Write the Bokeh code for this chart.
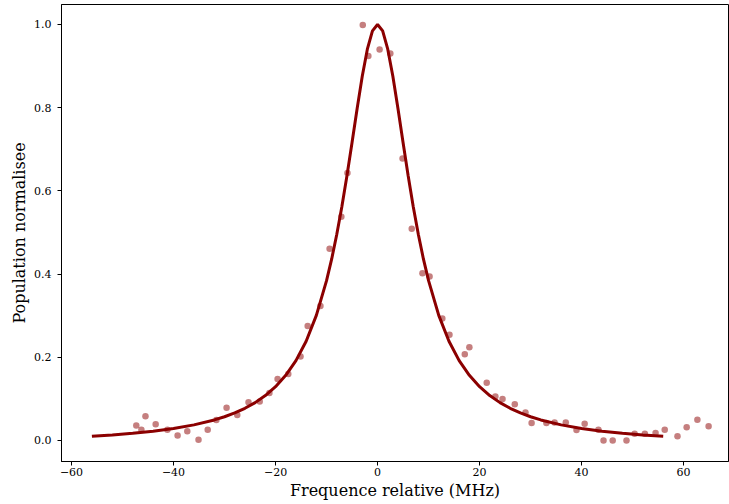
from bokeh.plotting import figure
from bokeh.models import FixedTicker, CustomJSTickFormatter
from bokeh.embed import file_html
from bokeh.resources import INLINE

# Measured points (relative frequency in MHz, normalised population)
freq = [-47.3, -46.3, -45.5, -43.5, -41.2, -39.2, -37.3, -35.1, -33.3, -31.6,
        -29.6, -27.5, -25.3, -23.1, -21.2, -19.6, -17.5, -15.1, -13.7, -11.2,
        -9.4, -7.1, -5.9, -2.9, -1.8, 0.4, 2.5, 4.9, 6.7, 8.8,
        10.2, 12.7, 14.1, 17.1, 18.0, 21.4, 23.1, 24.5, 26.9, 29.0,
        30.2, 33.1, 34.7, 36.9, 39.0, 40.6, 43.3, 44.3, 46.1, 48.8,
        50.4, 52.4, 54.5, 56.3, 58.8, 60.6, 62.7, 64.9]
pop = [0.036, 0.026, 0.058, 0.039, 0.026, 0.012, 0.022, 0.002, 0.026, 0.049,
       0.079, 0.061, 0.092, 0.094, 0.114, 0.148, 0.160, 0.202, 0.275, 0.323,
       0.461, 0.538, 0.643, 0.999, 0.924, 0.940, 0.930, 0.678, 0.509, 0.402,
       0.394, 0.293, 0.254, 0.207, 0.224, 0.139, 0.106, 0.100, 0.087, 0.067,
       0.042, 0.042, 0.043, 0.043, 0.025, 0.040, 0.026, 0.000, 0.000, 0.000,
       0.016, 0.016, 0.018, 0.026, 0.010, 0.032, 0.050, 0.034]

# Fitted curve
fit_freq = [-56, -52, -48, -44, -40, -36, -32, -30, -28, -26, -24, -22, -20, -18,
            -16, -14, -12, -10, -9, -8, -7, -6, -5, -4, -3, -2, -1, 0,
            1, 2, 3, 4, 5, 6, 7, 8, 9, 10, 12, 14, 16, 18, 20, 22, 24, 26,
            28, 30, 32, 36, 40, 44, 48, 52, 56]
fit_pop = [0.0102, 0.0134, 0.0173, 0.0223, 0.0288, 0.0375, 0.0494, 0.0571, 0.0662,
           0.0774, 0.0910, 0.1080, 0.1293, 0.1566, 0.1920, 0.2386, 0.3008, 0.3841,
           0.4358, 0.4950, 0.5620, 0.6364, 0.7163, 0.7980, 0.8755, 0.9406, 0.9845,
           1.0000,
           0.9845, 0.9406, 0.8755, 0.7980, 0.7163, 0.6364, 0.5620, 0.4950, 0.4358,
           0.3841, 0.3008, 0.2386, 0.1920, 0.1566, 0.1293, 0.1080, 0.0910, 0.0774,
           0.0662, 0.0571, 0.0494, 0.0375, 0.0288, 0.0223, 0.0173, 0.0134, 0.0102]

x_ticks = [-60, -40, -20, 0, 20, 40, 60]
y_ticks = [0.0, 0.2, 0.4, 0.6, 0.8, 1.0]

FONT = "DejaVu Serif"

p = figure(width=729, height=504, output_backend="svg", toolbar_location=None,
           x_range=(-61.96, 68.8), y_range=(-0.0505, 1.048),
           min_border_left=61, min_border_right=1, min_border_top=4, min_border_bottom=43)

p.scatter(freq, pop, size=6.5, fill_color="darkred", fill_alpha=0.5,
          line_color=None)
p.line(fit_freq, fit_pop, line_color="darkred", line_width=3)

p.xgrid.visible = False
p.ygrid.visible = False
p.outline_line_color = "black"
p.outline_line_width = 1

for ax in (p.xaxis[0], p.yaxis[0]):
    ax.axis_line_color = "black"
    ax.major_tick_line_color = "black"
    ax.major_tick_out = 4
    ax.major_tick_in = 0
    ax.minor_tick_line_color = None
    ax.major_label_text_font = FONT
    ax.major_label_text_font_size = "11px"
    ax.major_label_text_color = "black"
    ax.axis_label_text_font = FONT
    ax.axis_label_text_font_size = "16px"
    ax.axis_label_text_font_style = "normal"
    ax.axis_label_text_color = "black"

p.xaxis.ticker = FixedTicker(ticks=x_ticks)
p.yaxis.ticker = FixedTicker(ticks=y_ticks)
p.xaxis.formatter = CustomJSTickFormatter(code="return tick.toFixed(0).replace('-', '\u2212');")
p.yaxis.formatter = CustomJSTickFormatter(code="return tick.toFixed(1).replace('-', '\u2212');")
p.xaxis.axis_label = "Frequence relative (MHz)"
p.yaxis.axis_label = "Population normalisee"
p.xaxis.major_label_standoff = 2
p.yaxis.major_label_standoff = 6
p.xaxis.axis_label_standoff = 2
p.yaxis.axis_label_standoff = 2

open("out.html", "w").write(file_html(p, INLINE))
